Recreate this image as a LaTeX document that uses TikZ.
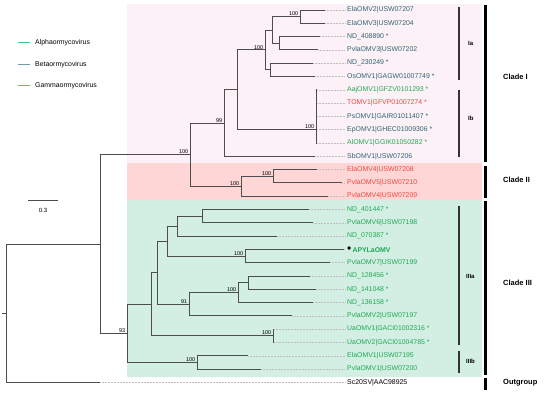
\documentclass[tikz,border=0pt]{standalone}
\usepackage{fontspec}
\setmainfont{Liberation Sans}
\usetikzlibrary{positioning}
\definecolor{betateal}{HTML}{2F6472}
\definecolor{alphagreen}{HTML}{1FA855}
\definecolor{gammared}{HTML}{F0483E}
\definecolor{legalpha}{HTML}{4CC58A}
\definecolor{legbeta}{HTML}{6F98A2}
\definecolor{leggamma}{HTML}{F27C6C}
\definecolor{bandpink}{HTML}{FDF1F8}
\definecolor{bandred}{HTML}{FFD6D6}
\definecolor{bandgreen}{HTML}{D3EFE3}
\definecolor{branchgray}{HTML}{4D4D4D}
\tikzset{
  branch/.style={draw=branchgray,line width=.8pt},
  guide/.style={draw=black!25,densely dotted,line width=.5pt},
  tip/.style={anchor=west,inner sep=0pt,font=\fontsize{6.9}{8}\selectfont},
  support/.style={anchor=south east,inner sep=.6pt,xshift=-1pt,font=\fontsize{5.5}{6}\selectfont},
  cladebar/.style={line width=3pt},
  subbar/.style={line width=1.4pt,draw=black!80},
  cladelabel/.style={anchor=west,inner sep=0pt,font=\bfseries\fontsize{7.5}{9}\selectfont},
  sublabel/.style={anchor=west,inner sep=0pt,font=\bfseries\fontsize{6}{7}\selectfont},
  legline/.style={line width=1pt},
  legtext/.style={anchor=west,inner sep=0pt,font=\fontsize{6.9}{8}\selectfont},
}

\begin{document}
\begin{tikzpicture}[x=1pt,y=-1pt]
  \useasboundingbox (0,0) rectangle (550,398);
  % clade bands
  \fill[bandpink] (127,4) rectangle (482,163);
  \fill[bandred] (127,163) rectangle (482,200);
  \fill[bandgreen] (127,200) rectangle (482,377);

  % legend
  \node[legtext] (alpha) at (35,43) {Alphaormycovirus};
  \node[legtext] (beta) at (35,65) {Betaormycovirus};
  \node[legtext] (gamma) at (35,86) {Gammaormycovirus};
  \coordinate (alpha-l) at (18,43);
  \coordinate (beta-l) at (18,65);
  \coordinate (gamma-l) at (18,86);
  \draw[legline,legalpha] (alpha-l) -- ++(12,0);
  \draw[legline,legbeta] (beta-l) -- ++(12,0);
  \draw[legline,leggamma] (gamma-l) -- ++(12,0);

  % scale bar
  \coordinate (scale-a) at (28,200);
  \coordinate (scale-b) at (58,200);
  \draw[branch] (scale-a) -- (scale-b);
  \node[font=\fontsize{6}{7}\selectfont] (scale) at (43,210) {0.3};

  % tips
  \foreach \i/\nm/\col/\xend/\txt in {
    1/elaomv2/betateal/325/{ElaOMV2|USW07207},
    2/elaomv3/betateal/325/{ElaOMV3|USW07204},
    3/nd408890/betateal/320/{ND\_408890 *},
    4/pvlaomv3/betateal/318/{PvlaOMV3|USW07202},
    5/nd230249/betateal/313/{ND\_230249 *},
    6/osomv1/betateal/315/{OsOMV1|GAGW01007749 *},
    7/aajomv1/alphagreen/317/{AajOMV1|GFZV0101293 *},
    8/tomv1/gammared/317/{TOMV1|GFVP01007274 *},
    9/psomv1/betateal/317/{PsOMV1|GAIR01011407 *},
    10/epomv1/betateal/317/{EpOMV1|GHEC01009306 *},
    11/alomv1/alphagreen/317/{AlOMV1|GGIK01050282 *},
    12/sbomv1/betateal/315/{SbOMV1|USW07206},
    13/elaomv4/gammared/317/{ElaOMV4|USW07208},
    14/pvlaomv5/gammared/342/{PvlaOMV5|USW07210},
    15/pvlaomv4/gammared/328/{PvlaOMV4|USW07209},
    16/nd401447/alphagreen/309/{ND\_401447 *},
    17/pvlaomv6/alphagreen/313/{PvlaOMV6|USW07198},
    18/nd070387/alphagreen/277/{ND\_070387 *},
    19/apylaomv/alphagreen/344/{{\color{black}\fontsize{12}{8}\selectfont\textbullet}\,\textbf{APYLaOMV}},
    20/pvlaomv7/alphagreen/330/{PvlaOMV7|USW07199},
    21/nd128456/alphagreen/310/{ND\_128456 *},
    22/nd141048/alphagreen/316/{ND\_141048 *},
    23/nd136158/alphagreen/313/{ND\_136158 *},
    24/pvlaomv2/alphagreen/292/{PvlaOMV2|USW07197},
    25/uaomv1/alphagreen/274/{UaOMV1|GACI01002316 *},
    26/uaomv2/alphagreen/274/{UaOMV2|GACI01004785 *},
    27/elaomv1/alphagreen/248/{ElaOMV1|USW07195},
    28/pvlaomv1/alphagreen/261/{PvlaOMV1|USW07200},
    29/sc20sv/black/100/{Sc20SV|AAC98925}}{
    \node[tip,text=\col] (\nm) at (347,{10+13.3*(\i-1)}) {\txt};
    \coordinate (\nm-e) at (\xend,{10+13.3*(\i-1)});
    \draw[guide] (\nm-e) -- ([xshift=-2pt]\nm.west);
  }

  % internal nodes
  \coordinate (root) at (6,313.2);
  \coordinate (ingroup) at (100,244.0);
  \coordinate (cladeonetwo) at (190,154.6);
  \coordinate (cladeone) at (224,123.05);
  \coordinate (cladeia) at (237,89.8);
  \coordinate (iaupper) at (265,49.9);
  \coordinate (iatop) at (272,29.95);
  \coordinate (elapair) at (300,16.65);
  \coordinate (ndpair) at (279,43.25);
  \coordinate (ospair) at (270,69.85);
  \coordinate (cladeib) at (316,129.7);
  \coordinate (cladetwo) at (241,186.2);
  \coordinate (elapvla) at (273,176.25);
  \coordinate (cladethree) at (127,333.4);
  \coordinate (iiia) at (151,304.3);
  \coordinate (iiiacore) at (157,272.7);
  \coordinate (apygroup) at (167,241.1);
  \coordinate (ndgroup) at (177,226.1);
  \coordinate (pvlapair) at (202,216.15);
  \coordinate (apypair) at (245,256.05);
  \coordinate (ndtriple) at (189,304.25);
  \coordinate (ndsub) at (238,292.6);
  \coordinate (ndpairb) at (248,282.65);
  \coordinate (uapair) at (273,335.85);
  \coordinate (iiib) at (197,362.45);

  % branches
  \draw[branch] (root) -- ++(-4,0);
  \draw[branch] (root) |- (ingroup);
  \draw[branch] (root) |- (sc20sv-e);
  \draw[branch] (ingroup) |- (cladeonetwo);
  \draw[branch] (ingroup) |- (cladethree);
  \draw[branch] (cladeonetwo) |- (cladeone);
  \draw[branch] (cladeonetwo) |- (cladetwo);
  \draw[branch] (cladeone) |- (cladeia);
  \draw[branch] (cladeone) |- (sbomv1-e);
  \draw[branch] (cladeia) |- (iaupper);
  \draw[branch] (cladeia) |- (cladeib);
  \draw[branch] (iaupper) |- (iatop);
  \draw[branch] (iaupper) |- (ospair);
  \draw[branch] (iatop) |- (elapair);
  \draw[branch] (iatop) |- (ndpair);
  \draw[branch] (elapair) |- (elaomv2-e);
  \draw[branch] (elapair) |- (elaomv3-e);
  \draw[branch] (ndpair) |- (nd408890-e);
  \draw[branch] (ndpair) |- (pvlaomv3-e);
  \draw[branch] (ospair) |- (nd230249-e);
  \draw[branch] (ospair) |- (osomv1-e);
  \foreach \lf in {aajomv1,tomv1,psomv1,epomv1,alomv1}
    \draw[branch] (cladeib) |- (\lf-e);
  \draw[branch] (cladetwo) |- (elapvla);
  \draw[branch] (cladetwo) |- (pvlaomv4-e);
  \draw[branch] (elapvla) |- (elaomv4-e);
  \draw[branch] (elapvla) |- (pvlaomv5-e);
  \draw[branch] (cladethree) |- (iiia);
  \draw[branch] (cladethree) |- (iiib);
  \draw[branch] (iiia) |- (iiiacore);
  \draw[branch] (iiia) |- (uapair);
  \draw[branch] (iiiacore) |- (apygroup);
  \draw[branch] (iiiacore) |- (ndtriple);
  \draw[branch] (apygroup) |- (ndgroup);
  \draw[branch] (apygroup) |- (apypair);
  \draw[branch] (ndgroup) |- (pvlapair);
  \draw[branch] (ndgroup) |- (nd070387-e);
  \draw[branch] (pvlapair) |- (nd401447-e);
  \draw[branch] (pvlapair) |- (pvlaomv6-e);
  \draw[branch] (apypair) |- (apylaomv-e);
  \draw[branch] (apypair) |- (pvlaomv7-e);
  \draw[branch] (ndtriple) |- (ndsub);
  \draw[branch] (ndtriple) |- (pvlaomv2-e);
  \draw[branch] (ndsub) |- (ndpairb);
  \draw[branch] (ndsub) |- (nd136158-e);
  \draw[branch] (ndpairb) |- (nd128456-e);
  \draw[branch] (ndpairb) |- (nd141048-e);
  \draw[branch] (uapair) |- (uaomv1-e);
  \draw[branch] (uapair) |- (uaomv2-e);
  \draw[branch] (iiib) |- (elaomv1-e);
  \draw[branch] (iiib) |- (pvlaomv1-e);

  % support values
  \node[support] (s-elapair) at (elapair) {100};
  \node[support] (s-iaupper) at (iaupper) {100};
  \node[support] (s-cladeone) at (cladeone) {99};
  \node[support] (s-cladeib) at (cladeib) {100};
  \node[support] (s-cladeonetwo) at (cladeonetwo) {100};
  \node[support] (s-cladetwo) at (cladetwo) {100};
  \node[support] (s-elapvla) at (elapvla) {100};
  \node[support] (s-apypair) at (apypair) {100};
  \node[support] (s-ndsub) at (ndsub) {100};
  \node[support] (s-ndtriple) at (ndtriple) {91};
  \node[support] (s-uapair) at (uapair) {100};
  \node[support] (s-iiib) at (iiib) {100};
  \node[support] (s-cladethree) at (cladethree) {93};

  % subclade bars
  \draw[subbar] (459,7) -- (459,80);
  \draw[subbar] (459,90) -- (459,157);
  \draw[subbar] (459,206) -- (459,345);
  \draw[subbar] (459,351) -- (459,373);
  \node[sublabel] (ia) at (468,43) {Ia};
  \node[sublabel] (ib) at (468,118) {Ib};
  \node[sublabel] (iiialab) at (466,276) {IIIa};
  \node[sublabel] (iiiblab) at (466,361) {IIIb};

  % clade bars
  \draw[cladebar] (485,5) -- (485,162);
  \draw[cladebar] (485,166) -- (485,198);
  \draw[cladebar] (485,201) -- (485,375);
  \draw[cladebar] (485,378) -- (485,390);
  \node[cladelabel] (cI) at (503,77) {Clade I};
  \node[cladelabel] (cII) at (503,180) {Clade II};
  \node[cladelabel] (cIII) at (503,283) {Clade III};
  \node[cladelabel] (cOut) at (503,383) {Outgroup};
\end{tikzpicture}
\end{document}
